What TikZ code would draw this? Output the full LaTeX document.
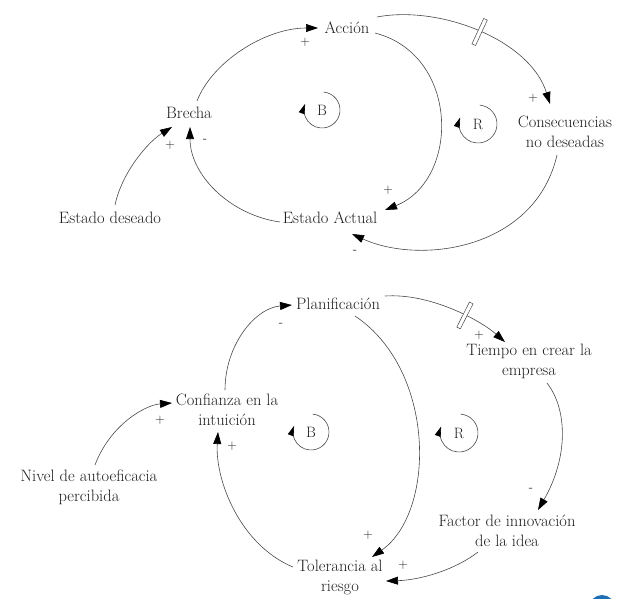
\documentclass[tikz,border=0pt]{standalone}
\usepackage{fontspec}
\usetikzlibrary{arrows.meta}
\definecolor{ink}{HTML}{1E1E1E}
\definecolor{wire}{HTML}{484848}
\definecolor{dotblue}{HTML}{1F6FB5}
\begin{document}
\begin{tikzpicture}[x=1pt,y=-1pt,
  var/.style={font=\fontsize{16.5}{20}\selectfont, text=ink, align=center, inner sep=0pt},
  sign/.style={font=\fontsize{13}{13}\selectfont, text=ink, inner sep=0pt},
  link/.style={draw=wire, line width=0.6pt, -{Triangle[length=12pt,width=8pt,color=black]}},
  loopsym/.style={font=\fontsize{15}{15}\selectfont, text=ink, inner sep=0pt},
  loopline/.style={draw=wire, line width=0.6pt, -{Triangle[length=10pt,width=6pt,color=black]}},
  delaymark/.style={draw=wire, fill=white, line width=0.5pt, minimum width=4pt, minimum height=28pt, inner sep=0pt, sloped}
]
\useasboundingbox (0,0) rectangle (631,598);

% ---------- top diagram ----------
\node[var] (accion)  at (347,28)  {Acción};
\node[var] (brecha)  at (189,113) {Brecha};
\node[var] (deseado) at (110,218) {Estado deseado};
\node[var] (actual)  at (330,218) {Estado Actual};
\node[var] (conse)   at (565,132) {Consecuencias\\no deseadas};

\draw[link] ([shift={(8,-12)}]brecha.center) .. controls (212,62) and (265,28) .. ([shift={(-29,0)}]accion.center);
\draw[link] ([shift={(5,-13)}]deseado.center) .. controls (122,172) and (148,142) .. ([shift={(-17,14)}]brecha.center);
\draw[link] ([shift={(-50,4)}]actual.center) .. controls (230,215) and (190,175) .. ([shift={(1,14)}]brecha.center);
\draw[link] ([shift={(28,5)}]accion.center) .. controls (460,55) and (460,180) .. ([shift={(55,-8)}]actual.center);
\draw[link] ([shift={(30,-11)}]accion.center) .. controls (440,5) and (530,40) .. node[delaymark, pos=0.5] {} ([shift={(-15,-28)}]conse.center);
\draw[link] ([shift={(-8,23)}]conse.center) .. controls (535,250) and (420,265) .. ([shift={(22,16)}]actual.center);

\node[sign] (s1) at (305,42)  {+};
\node[sign] (s2) at (170,145) {+};
\node[sign] (s3) at (205,141) {-};
\node[sign] (s4) at (388,190) {+};
\node[sign] (s5) at (533,98)  {+};
\node[sign] (s6) at (355,252) {-};

\node[loopsym] (B1) at (322,110) {B};
\draw[loopline] ([shift={(-85:18)}]B1.center) arc[start angle=-85, end angle=200, radius=18];
\node[loopsym] (R1) at (478,124) {R};
\draw[loopline] ([shift={(-85:19)}]R1.center) arc[start angle=-85, end angle=200, radius=19];

% ---------- bottom diagram ----------
\node[var] (plan)   at (338,304) {Planificación};
\node[var] (conf)   at (227,410) {Confianza en la\\intuición};
\node[var] (nivel)  at (89,487)  {Nivel de autoeficacia\\percibida};
\node[var] (tol)    at (340,577) {Tolerancia al\\riesgo};
\node[var] (tiempo) at (529,361) {Tiempo en crear la\\empresa};
\node[var] (factor) at (507,531) {Factor de innovación\\de la idea};

\draw[link] ([shift={(-2,-20)}]conf.center) .. controls (225,345) and (255,308) .. ([shift={(-46,1)}]plan.center);
\draw[link] ([shift={(6,-22)}]nivel.center) .. controls (110,425) and (145,405) .. ([shift={(-55,-7)}]conf.center);
\draw[link] ([shift={(-47,-10)}]tol.center) .. controls (240,545) and (215,480) .. ([shift={(-9,22)}]conf.center);
\draw[link] ([shift={(17,12)}]plan.center) .. controls (436,370) and (436,512) .. ([shift={(32,-20)}]tol.center);
\draw[link] ([shift={(47,-8)}]plan.center) .. controls (430,293) and (480,320) .. node[delaymark, pos=0.6] {} ([shift={(-24,-19)}]tiempo.center);
\draw[link] ([shift={(18,22)}]tiempo.center) .. controls (568,410) and (568,458) .. ([shift={(31,-21)}]factor.center);
\draw[link] ([shift={(-29,21)}]factor.center) .. controls (455,570) and (420,580) .. ([shift={(46,4)}]tol.center);

\node[sign] (t1) at (281,325) {-};
\node[sign] (t2) at (160,420) {+};
\node[sign] (t3) at (232,446) {+};
\node[sign] (t4) at (368,535) {+};
\node[sign] (t5) at (479,335) {+};
\node[sign] (t6) at (531,490) {-};
\node[sign] (t7) at (403,565) {+};

\node[loopsym] (B2) at (311,432) {B};
\draw[loopline] ([shift={(-85:18)}]B2.center) arc[start angle=-85, end angle=200, radius=18];
\node[loopsym] (R2) at (459,433) {R};
\draw[loopline] ([shift={(-85:19)}]R2.center) arc[start angle=-85, end angle=200, radius=19];

% partial blue dot at bottom edge
\begin{scope}
\clip (0,0) rectangle (631,598);
\fill[dotblue] (602,608) circle[radius=13];
\end{scope}
\end{tikzpicture}
\end{document}
